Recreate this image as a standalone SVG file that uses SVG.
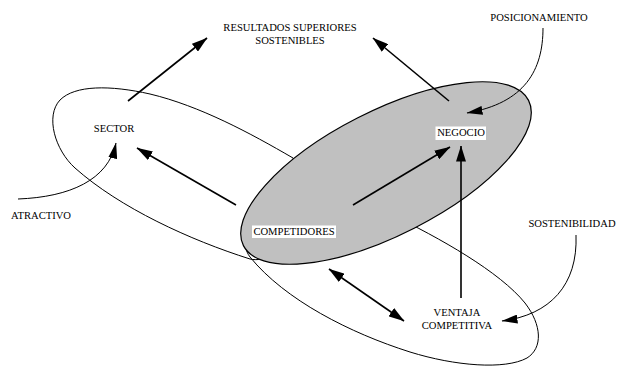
<svg xmlns="http://www.w3.org/2000/svg" width="617" height="367" viewBox="0 0 617 367">
<style>
.lbl{font-family:"Liberation Serif","Times New Roman",serif;font-size:10.6px;fill:#000;text-anchor:middle}
.outline{fill:none;stroke:#000;stroke-width:1}
.arr{fill:none;stroke:#000;stroke-width:1.6}
.thin{fill:none;stroke:#000;stroke-width:1}
.box{fill:#fff}
</style>
<defs>
<marker id="ah" markerWidth="16" markerHeight="10" refX="15.5" refY="5" orient="auto" markerUnits="userSpaceOnUse"><path d="M0,0 L16,5 L0,10 z" fill="#000"/></marker>
<marker id="ahs" markerWidth="16" markerHeight="10" refX="15.5" refY="5" orient="auto-start-reverse" markerUnits="userSpaceOnUse"><path d="M0,0 L16,5 L0,10 z" fill="#000"/></marker>
<marker id="aht" markerWidth="16" markerHeight="9" refX="15.5" refY="4.5" orient="auto" markerUnits="userSpaceOnUse"><path d="M0,0 L16,4.5 L0,9 z" fill="#000"/></marker>
</defs>
<rect width="617" height="367" fill="#fff"/>
<g id="regions">
<path id="sector-region" class="outline" d="M293,158 C250,133 200,106 150,94 C110,85 75,85 60,100 C45,116 55,150 75,168 C120,208 190,240 250,259 C280,266 330,215 293,158 Z"/>
<path id="ventaja-region" class="outline" d="M390,214 C440,238 500,272 525,303 C542,325 543,348 527,358 C505,370 455,366 410,352 C350,333 285,300 250,257 C240,244 250,232 270,228 C310,220 355,200 390,214 Z"/>
<ellipse id="negocio-region" cx="386" cy="173" rx="160" ry="62" transform="rotate(-27 386 173)" fill="#c0c0c0" stroke="#000" stroke-width="1.2"/>
</g>
<g id="connectors">
<line class="arr" x1="128" y1="101" x2="207" y2="38" marker-end="url(#ah)"/>
<line class="arr" x1="449" y1="101" x2="373" y2="38" marker-end="url(#ah)"/>
<line class="arr" x1="236" y1="205" x2="137" y2="148" marker-end="url(#ah)"/>
<line class="arr" x1="353" y1="205" x2="450" y2="147" marker-end="url(#ah)"/>
<line class="arr" x1="461" y1="298" x2="461" y2="146" marker-end="url(#ah)"/>
<line class="arr" x1="329" y1="269" x2="404" y2="321" marker-start="url(#ahs)" marker-end="url(#ahs)"/>
<path class="thin" d="M18,199 C70,197 108,180 116,143" marker-end="url(#aht)"/>
<path class="thin" d="M543,28 C543,70 525,103 467,113" marker-end="url(#aht)"/>
<path class="thin" d="M576,235 C578,285 550,315 502,321" marker-end="url(#aht)"/>
</g>
<g id="resultados"><text class="lbl" x="290" y="31">RESULTADOS SUPERIORES</text><text class="lbl" x="290" y="43.5">SOSTENIBLES</text></g>
<g id="posicionamiento"><text class="lbl" x="539" y="21">POSICIONAMIENTO</text></g>
<g id="sector"><text class="lbl" x="114" y="132">SECTOR</text></g>
<g id="atractivo"><text class="lbl" x="41" y="219">ATRACTIVO</text></g>
<g id="negocio"><rect class="box" x="435.5" y="126.5" width="50.5" height="13.5"/><text class="lbl" x="461" y="136">NEGOCIO</text></g>
<g id="competidores"><rect class="box" x="252" y="225.5" width="84" height="12.5"/><text class="lbl" x="294" y="235">COMPETIDORES</text></g>
<g id="sostenibilidad"><text class="lbl" x="572" y="227">SOSTENIBILIDAD</text></g>
<g id="ventaja"><text class="lbl" x="457" y="316">VENTAJA</text><text class="lbl" x="457" y="329">COMPETITIVA</text></g>
</svg>
